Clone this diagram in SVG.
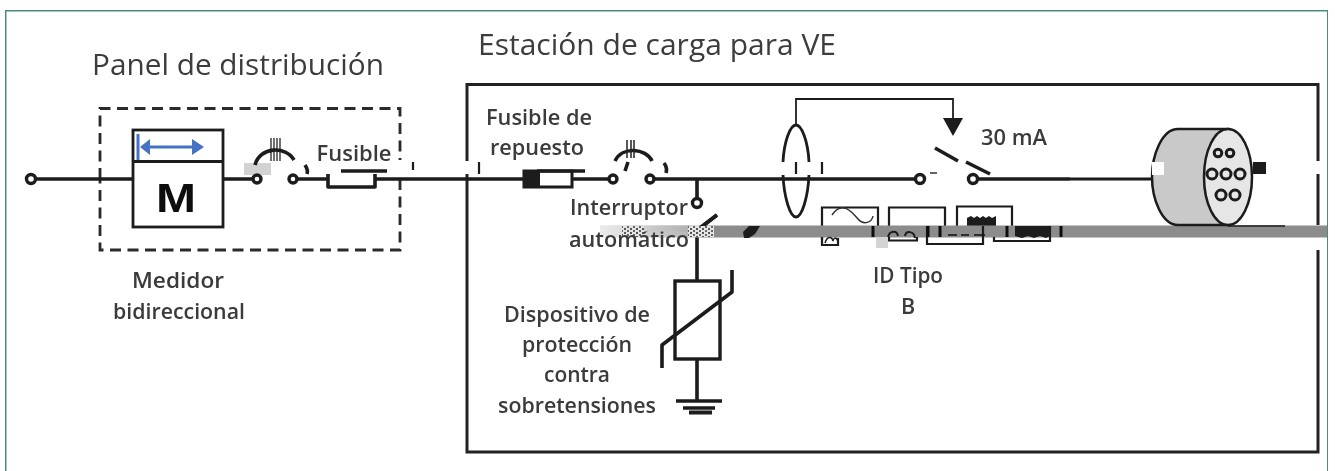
<svg xmlns="http://www.w3.org/2000/svg" width="1335" height="471" viewBox="0 0 1335 471">
<style>
.w{fill:none;stroke:#1c1c1c;stroke-width:3.600;stroke-linecap:butt;stroke-linejoin:round}
.t{fill:none;stroke:#1c1c1c;stroke-width:2.200}
.o{fill:#fff;stroke:#1c1c1c;stroke-width:3.400}
.k{fill:#1c1c1c}
.l{font-family:"Open Sans","Noto Sans",sans-serif;font-size:21.500px;font-weight:600;fill:#3a3a3a;text-anchor:middle}
.h{font-family:"Open Sans","Noto Sans",sans-serif;font-size:29px;fill:#3c3c3c}
</style>
<defs>
<pattern id="noise" width="6" height="4" patternUnits="userSpaceOnUse"><rect width="6" height="4" fill="#e4e4e4"/><rect width="2" height="2" fill="#555"/><rect x="3" y="2" width="2" height="2" fill="#666"/></pattern>
<linearGradient id="fade" x1="0" x2="1" y1="0" y2="0"><stop offset="0" stop-color="#ececec"/><stop offset="1" stop-color="#b0b0b0"/></linearGradient>
<filter id="soft" x="0" y="0" width="100%" height="100%"><feGaussianBlur stdDeviation="0.450"/></filter>
</defs>
<rect width="1335" height="471" fill="#fff"/>
<g filter="url(#soft)">
<path d="M5.500 471V10.500H1328V471" fill="none" stroke="#4a8d80" stroke-width="2"/>

<g id="panel-frame">
<path d="M100 179V108.500H400V160M400 179V250H100V179" fill="none" stroke="#2a2a2a" stroke-width="2.800" stroke-dasharray="11 6.500"/>
<path d="M413 162V170" class="t"/>
</g>
<g id="station-frame">
<path d="M467 161V84.500H1318V161M1318 174V225M1318 250V452H467V174" fill="none" stroke="#222" stroke-width="3"/>
<path d="M479 162V174" class="t"/>
</g>

<g id="connectors">
<path class="w" d="M34 179H133M223 179H257M293 179H328M375 179H523M572 179H613M650 179H920M973 179H1070"/>
<path d="M1070 179H1152" fill="none" stroke="#1c1c1c" stroke-width="2.800"/>
<path class="w" d="M697 179V203M697 236V281M697 359V401"/>
<path d="M796 125V99H953V120" fill="none" stroke="#1c1c1c" stroke-width="1.800"/>
<path class="k" d="M943 118H963L953 136Z"/>
</g>

<g id="node-terminal"><circle class="o" cx="31" cy="179" r="4.500"/></g>
<g id="node-meter">
<rect x="133" y="130" width="90" height="97" fill="#fff" stroke="#1c1c1c" stroke-width="2.800"/>
<path d="M133 161.500H223" stroke="#1c1c1c" stroke-width="2.800"/>
<path d="M138 134V160" stroke="#4472c4" stroke-width="3"/>
<path d="M148 147H194" stroke="#4472c4" stroke-width="3"/>
<path d="M140 147L150 139V155ZM204 147L192 139V155Z" fill="#4472c4"/>
<text x="176" y="212" text-anchor="middle" font-family="'Liberation Sans',sans-serif" font-size="41" font-weight="700" fill="#111" textLength="40" lengthAdjust="spacingAndGlyphs">M</text>
</g>
<g id="node-breaker-1">
<rect x="244" y="163" width="27" height="12" fill="#d2d2d2"/>
<circle class="o" cx="257" cy="179" r="4"/><circle class="o" cx="293" cy="179" r="4"/>
<path class="w" d="M255 165C260 146 286 146 294 160"/>
<path d="M271 138V161M274 138V161M277 138V161M280 138V161" stroke="#222" stroke-width="1.300"/>
<path d="M305 165C307 168 308 171 307 174" class="w"/>
</g>
<g id="node-fuse-1">
<path class="w" d="M328 174V187H375V174"/>
<path class="w" d="M341 171H387"/>
</g>
<g id="node-fuse-2">
<rect x="524" y="171" width="48" height="16" fill="#fff" stroke="#1c1c1c" stroke-width="3"/>
<rect x="523" y="171" width="17" height="17" class="k"/>
<path class="w" d="M537 171H585"/>
</g>
<g id="node-breaker-2">
<circle class="o" cx="613" cy="179" r="4"/><circle class="o" cx="650" cy="179" r="4"/>
<path class="w" d="M615 161C622 146 646 148 652 161"/>
<path d="M627 140V158M631 140V158M634 140V158" stroke="#222" stroke-width="1.500"/>
<path class="w" d="M628 162L625 171M664 163C667 167 667 170 666 173"/>
</g>
<g id="node-spd-switch">
<circle class="o" cx="697" cy="203" r="4.500"/>
<path class="w" d="M700 228L717 215"/>
</g>
<g id="node-ring">
<path d="M783 162C784 142 790 125 796 125C802 125 808 142 809 162M783 175C784 197 790 217 796 217C802 217 808 197 809 175" fill="none" stroke="#1c1c1c" stroke-width="2.800"/>
<path d="M796 162V174M822 162V174" class="t"/>
</g>
<g id="node-rcd-switch">
<circle class="o" cx="920" cy="179" r="4.500"/><circle class="o" cx="973" cy="179" r="4.500"/>
<path class="w" d="M935 148L958 161M966 162L990 174"/>
<path d="M930 173H937" stroke="#333" stroke-width="1.500"/>
</g>
<g id="node-id-boxes">
<path class="t" d="M822 240V207.500H878V226"/>
<path d="M832 215C842 200 852 212 858 219C864 226 872 222 873 216" fill="none" stroke="#333" stroke-width="1.500"/>
<path class="t" d="M889 226V207.500H945V226"/>
<path class="t" d="M957 226V206.500H1012V226"/>
<path class="k" d="M967 226V218L971 216L974 218L977 216L980 218L983 216L986 218L989 216L992 218L996 216V226Z"/>
</g>
<g id="bar-artifact">
<rect x="600" y="225.500" width="100" height="12" fill="url(#fade)"/>
<rect x="700" y="225.500" width="627" height="12" fill="#8c8c8c"/>
<rect x="622" y="226" width="22" height="11" fill="url(#noise)"/>
<rect x="688" y="226" width="26" height="11" fill="url(#noise)"/>
</g>
<g id="node-id-lower">
<path class="k" d="M743 232L749 226H760L755 234L749 238H744Z"/>
<path class="w" d="M700 228L717 215"/>
<path class="t" d="M822 237V245H838V238M889 237V240.500H917V237M927 226V244H983V226M994 237V241H1050V226"/>
<path d="M825 243C827 236 832 236 833 241C834 236 838 238 838 243" fill="none" stroke="#222" stroke-width="1.500"/>
<path d="M888 238C889 230 897 230 898 236M905 236C906 230 914 231 915 238" fill="none" stroke="#1c1c1c" stroke-width="2"/>
<path class="k" d="M1015 226H1050V236L1046 238L1040 236L1034 238L1028 236L1022 238L1015 236Z"/>
<path d="M873 226V237M928 226V237M940 226V237M1007 226V237M1061 226V237" stroke="#111" stroke-width="3"/>
<path d="M948 235H957M961 235H969M974 235H985" stroke="#111" stroke-width="1.500"/>
<rect x="876" y="237" width="12" height="11" fill="#d4d4d4"/>
</g>
<g id="node-plug">
<path d="M1228 129H1178C1162 129 1152 155 1152 177C1152 199 1162 225 1178 225H1228Z" fill="#c9c9c9" stroke="#1c1c1c" stroke-width="2.500"/>
<rect x="1152" y="162" width="12" height="13" fill="#fff"/>
<ellipse cx="1228" cy="177" rx="24" ry="48" fill="#e6e6e6" stroke="#1c1c1c" stroke-width="2.500"/>
<rect x="1253" y="162" width="13" height="12" class="k"/>
<path d="M1228 226H1285" stroke="#1c1c1c" stroke-width="1.500"/>
<g fill="none" stroke="#1c1c1c" stroke-width="3">
<circle cx="1218" cy="153" r="3.800"/><circle cx="1230" cy="153" r="3.800"/>
<circle cx="1212" cy="174" r="5"/><circle cx="1226" cy="174" r="5"/><circle cx="1240" cy="174" r="5"/>
<circle cx="1221" cy="195" r="5"/><circle cx="1235" cy="195" r="5"/>
</g>
</g>
<g id="node-spd">
<rect x="675" y="281" width="45" height="78" fill="#fff" stroke="#1c1c1c" stroke-width="3.400"/>
<path class="w" d="M662 368V345L732 292V270"/>
<path d="M676 401H722" stroke="#1c1c1c" stroke-width="3.500"/>
<path d="M683 408H715" stroke="#1c1c1c" stroke-width="3.500"/>
<path d="M689 412.500H712" stroke="#1c1c1c" stroke-width="4"/>
</g>

<g id="labels">
<text class="h" x="92" y="75" textLength="292" lengthAdjust="spacingAndGlyphs">Panel de distribución</text>
<text class="h" x="478" y="55" textLength="358" lengthAdjust="spacingAndGlyphs">Estación de carga para VE</text>
<text class="l" x="354" y="161" textLength="75" lengthAdjust="spacingAndGlyphs">Fusible</text>
<text class="l" x="539" y="125" textLength="106" lengthAdjust="spacingAndGlyphs">Fusible de</text>
<text class="l" x="537" y="155" textLength="94" lengthAdjust="spacingAndGlyphs">repuesto</text>
<text class="l" x="629" y="215" textLength="118" lengthAdjust="spacingAndGlyphs">Interruptor</text>
<text class="l" x="178" y="288" textLength="92" lengthAdjust="spacingAndGlyphs">Medidor</text>
<text class="l" x="179" y="319" textLength="132" lengthAdjust="spacingAndGlyphs">bidireccional</text>
<text class="l" x="1014" y="145" textLength="66" lengthAdjust="spacingAndGlyphs">30 mA</text>
<text class="l" x="908" y="283" textLength="70" lengthAdjust="spacingAndGlyphs">ID Tipo</text>
<text class="l" x="908" y="314">B</text>
<text class="l" x="577" y="322" textLength="146" lengthAdjust="spacingAndGlyphs">Dispositivo de</text>
<text class="l" x="577" y="352" textLength="110" lengthAdjust="spacingAndGlyphs">protección</text>
<text class="l" x="577" y="382" textLength="66" lengthAdjust="spacingAndGlyphs">contra</text>
<text class="l" x="577" y="413" textLength="158" lengthAdjust="spacingAndGlyphs">sobretensiones</text>
<text class="l" x="629" y="247" textLength="120" lengthAdjust="spacingAndGlyphs">automático</text>
</g>
<g id="bar-over-text">
<rect x="600" y="225.500" width="90" height="6" fill="url(#fade)"/>
<rect x="622" y="226" width="22" height="6" fill="url(#noise)"/>
<rect x="688" y="226" width="26" height="11" fill="url(#noise)"/>
</g>
</g>
</svg>
